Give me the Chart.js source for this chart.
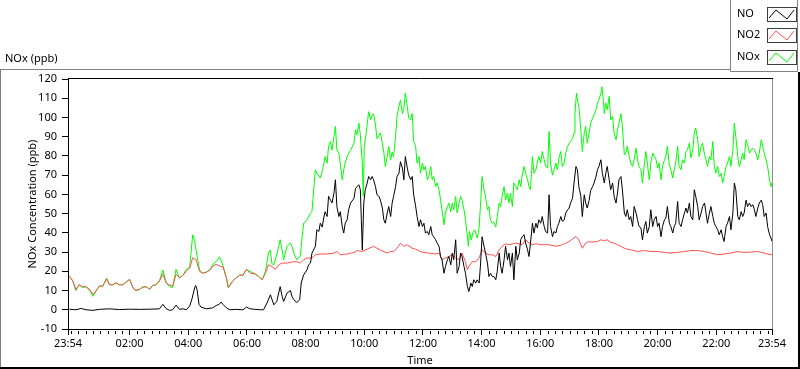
<!DOCTYPE html>
<html>
<head>
<meta charset="utf-8">
<script src="https://cdn.jsdelivr.net/npm/chart.js@4/dist/chart.umd.min.js"></script>
<style>
html,body{margin:0;padding:0;background:#fff;overflow:hidden;}
canvas{display:block;}
</style>
</head>
<body>
<canvas id="c" width="800" height="369"></canvas>
<script>
// ---- tick labels (minutes after 23:54) ----
const majorTickMinutes = [0,126,246,366,486,606,726,846,966,1086,1206,1326,1440];
const majorTickLabels = ["23:54","02:00","04:00","06:00","08:00","10:00","12:00","14:00","16:00","18:00","20:00","22:00","23:54"];
const seriesNames = ["NO","NO2","NOx"];
const seriesColors = ["#000000","#ff4f4f","#00ff00"];

// ---- NO (ppb) ----
const noTimes = [3,16,27,37,51,64,85,105,126,146,167,180,187,194,201,208,214,221,228,235,242,249,254,259,261,264,268,272,283,296,303,309,313,317,324,331,344,358,365,
372,380,393,400,407,414,421,427,434,438,441,448,455,458,462,468,474,477,482,489,492,496,499,506,509,513,516,520,523,526,530,533,537,540,544,547,550,554,557,561,564,567,571,574,578,585,588,591,595,598,600,602,605,608,612,615,619,622,625,629,632,636,639,643,646,649,653,656,660,663,666,670,673,677,680,684,687,690,694,697,701,704,707,711,
714,718,721,725,728,731,735,738,742,745,748,752,755,759,762,765,769,772,776,779,783,786,789,793,796,800,803,806,810,813,817,820,824,827,830,834,837,841,844,847,851,854,858,861,864,868,871,875,878,882,885,888,892,895,899,902,905,909,912,916,919,923,926,929,933,936,940,943,946,950,953,957,960,963,967,970,974,977,981,984,987,991,994,998,1001,1004,1008,1011,1015,1018,1022,1025,1028,1032,1035,1039,1042,1045,1049,1052,1056,1059,1062,1066,1069,
1073,1076,1080,1083,1086,1090,1093,1097,1100,1103,1107,1110,1114,1117,1121,1124,1127,1131,1134,1138,1141,1144,1148,1151,1155,1158,1162,1165,1168,1172,1175,1179,1182,1185,1189,1192,1196,1199,1203,1206,1209,1213,1216,1220,1223,1226,1230,1233,1237,1240,1243,1247,1250,1254,1257,1261,1264,1267,1271,1274,1278,1281,1284,1288,1291,1295,1298,1302,1305,1308,1312,1315,1319,1322,1325,1329,1332,1336,1339,1342,1346,1349,1353,1356,1360,1363,1366,1370,1373,1377,1380,1383,1387,1390,1394,1397,1401,1404,1407,1411,1414,1418,1421,1424,1428,1431,1435,1438,1440];
const noValues = [0.3,0,0.7,0,-0.3,0.2,0.5,0.1,0.3,0.2,0.3,0.4,0.5,2.8,0.5,-0.3,0,2.4,0.2,0.5,0,2,6,11.4,12.6,10.5,2.8,1.4,0.5,1,2.2,2.8,4,2.8,1,0,0.2,0,1.4,
0.5,0.3,0,0,3.5,7.8,2.6,4.3,12,7,4.3,8.7,10,7,5.2,3.8,5.2,13.9,18.2,20.8,23.4,24.3,29.5,33,41.6,40.7,45,43,47.7,51,48.5,59,57,55.5,60.7,67.6,53.7,48.5,51,43,39.9,45,46.8,52,55.5,58,63,64,65,62.4,46.8,31,55.5,62.4,65.9,69.3,67.6,69.3,67.6,64,59.8,59,57,52.9,46.8,45,50.3,53.7,48.5,55.5,59,64,69.3,71,77,73.7,67.6,79.7,73.7,70,67.6,69.3,59.8,54,
48.5,43.3,46.8,43.3,45,39.9,40.7,39,43.3,39,38,36.4,34.7,33,27.7,26,19,22.5,26,27.7,23.4,29.5,26,36.4,19,22.5,29.5,27.7,22.5,19,12.1,9.5,13.9,12.1,15.6,13.9,15.6,13.9,24.3,38,33,29.5,24.3,17.3,19,17.3,17.3,15.6,20,29.5,22.5,19,26,33,26,29.5,22.5,29.5,15.6,33,26,29.5,36.4,38,39,34.7,31.2,27.7,34.7,45,39.9,45,42.5,46.8,45,48.5,43.3,40.7,39.9,59.8,43.3,38,40.7,39.9,43.3,45,48.5,46,46.8,50.3,52,52.9,55.5,58,65.9,74.5,72.8,64,59,48.5,59.8,55.5,52.9,57,62,
64,65.9,69.3,72.8,74.5,78,71,65.9,71,74.5,67.6,62.4,65.9,59,55.5,60.7,67.6,69.3,62.4,50.3,48.5,52,46.8,48.5,43.3,53.7,50.3,46.8,43.3,42.5,36.4,43.3,45.9,39.9,43.3,52,43.3,46.8,48.5,43.3,45,38,43.3,46.8,47.7,53.7,45,43.3,39.9,43.3,45,56.3,45,43.3,46.8,50.3,52.9,50.3,55.5,48.5,46.8,62.4,59,53.7,46.8,50.3,53.7,55.5,50.3,45,50.3,53.7,48.5,45,43.3,41.6,39,41.6,38,35.5,43.3,45,48.5,41.6,50.3,65.9,62.4,48.5,46.8,51,48.5,50.3,57,53.7,55.5,53.7,54.6,52,48.5,52.9,55.5,57,54.6,48.5,50.3,43.3,39,37.3,35.5];

// ---- NO2 (ppb) ----
const no2Times = [3,10,16,23,30,37,44,51,57,64,71,79,85,92,98,105,112,119,126,133,139,146,153,160,167,173,180,187,194,201,208,214,221,228,235,242,249,255,262,269,276,283,290,296,303,310,317,324,328,337,344,351,358,365,373,383,390,397,404,410,417,424,431,438,448,455,462,468,475,482,489,499,506,516,530,544,550,557,571,585,591,602,612,625,632,639,653,660,666,673,680,687,694,704,711,725,738,752,759,765,772,779,786,793,800,806,813,817,820,827,834,841,847,854,861,868,875,882,888,895,902,909,916,929,936,943,950,957,970,984,998,1011,1025,1039,1045,1052,1059,1066,1069,1083,1090,1097,1103,1110,1117,1124,1131,1138,1144,1151,1165,1179,1192,1206,1220,1233,1247,1261,1274,1288,1302,1315,1329,1342,1356,1370,1383,1397,1411,1424,1431,1440];
const no2Values = [17.5,14.9,10.6,13,12,12,10.6,8,9.7,12.3,12.3,16,13,13,14,13,13,14.4,15.8,11.4,10.2,10.6,11.8,12,10.6,12.6,13,15,18.4,14,12.8,12.3,18.4,16.6,17.9,20,21.8,27,26,20,19,19.6,20.6,22.7,23.6,22.7,22.4,16.6,11.5,15,16.6,18,18,21,19,18.7,17.3,15.6,19,23.4,22.5,21,23.4,24.3,24.3,24.6,25,25,24.3,26,26.9,26.9,28.6,29,29,29.5,30.3,28.6,29,29.8,30.8,30.3,31.5,33,32,31,29.5,30.3,30.3,32,34.6,33,33.8,32,31.5,29.8,29.5,29,29.5,26,27,27.7,28.6,27,26,29.5,25,20.8,22.5,25,25,27,31.2,29.5,28.6,28.6,27.7,31.2,33,34.3,33.8,34.3,34.7,33.8,36.4,34.7,33.8,34.3,33.8,33.8,33,33.8,35.5,38.1,36.4,32,34.7,35.5,35.2,35.5,36.4,35.9,36.4,35,34.7,33.8,33,32,31.5,31.2,30.3,30.8,30.3,30.3,29.8,29.5,29.8,30.3,30.8,30.8,30.3,29.5,28.6,29,29.5,30.3,29.8,30,30.3,29.5,29,28.6];

// ---- NOx (ppb) ----
const noxTimes = [3,10,16,23,30,37,44,51,57,64,71,79,85,92,98,105,112,119,126,133,139,146,153,160,167,173,180,187,194,201,208,214,221,228,235,242,249,255,259,262,269,276,283,290,296,303,310,317,324,328,337,344,351,358,365,
372,380,390,397,404,410,414,417,421,427,434,438,441,448,455,458,462,468,475,479,482,489,496,499,503,506,509,516,520,526,530,533,537,540,544,547,550,554,557,561,564,567,571,578,585,588,591,595,598,602,604,606,610,615,619,622,625,629,632,639,643,646,649,653,656,660,663,666,670,673,677,680,684,687,690,694,697,701,704,707,711,
714,718,721,725,728,731,735,738,742,745,748,752,755,759,762,765,769,772,776,779,783,786,789,793,796,800,803,806,810,813,817,819,821,825,828,832,837,841,844,847,851,854,858,861,864,868,871,875,878,882,885,888,892,895,899,902,905,909,912,916,919,923,926,929,933,936,940,943,946,950,953,957,960,963,967,970,974,977,981,984,987,991,994,998,1001,1004,1008,1011,1015,1018,1022,1025,1028,1032,1035,1037,1040,1042,1045,1049,1052,1056,1059,1062,1066,1069,
1073,1076,1080,1083,1086,1090,1092,1095,1097,1100,1103,1107,1110,1114,1117,1121,1124,1127,1131,1134,1138,1141,1144,1148,1151,1155,1158,1162,1165,1168,1172,1175,1179,1182,1185,1189,1192,1196,1199,1203,1206,1209,1213,1216,1220,1223,1226,1230,1233,1237,1240,1243,1247,1250,1254,1257,1261,1264,1267,1271,1274,1278,1281,1284,1288,1291,1295,1298,1302,1305,1308,1312,1315,1319,1322,1325,1329,1332,1336,1339,1342,1346,1349,1353,1356,1360,1363,1366,1370,1373,1377,1380,1383,1387,1390,1394,1397,1401,1404,1407,1411,1414,1418,1421,1424,1428,1431,1435,1438,1440];
const noxValues = [17.5,14.9,10,13,11.5,12,10.2,7,9.7,12.3,12.3,16.4,13,13,14,13,13,14.4,15.8,11.4,9.8,10.6,11.8,12,10.6,12.6,13,15,20.6,14,12,11.5,21,16.6,17.9,21,22,39,36,31,20.8,19,19.6,20.6,23.6,25,27.5,23,16.6,11.5,15,16.6,18,18,21,
20,19,17.3,15.6,20,29.5,31,24,23.4,28.6,36.4,31,26,33,34.7,33,29.5,26,27.7,38,45,46.8,50.3,51,64,72.8,71,68.5,72,79.7,76.3,85,87.5,83,90,95.3,83,81.5,76,67.6,72.8,76.3,79.7,83,86.6,93.6,91,97,91,76,59,85,92,103,98.8,101,102,96,89,92,86.6,82,74.5,79.7,85,78,82,79.7,90,100.5,105.7,109,102,104.8,112.6,105.7,99.6,98.8,102,87.5,85,
76.3,79.7,71,76.3,72.8,74.5,67.6,69.3,74.5,67.6,69.3,64,66,62.4,57,52,44.2,50.3,53.7,55.5,51,55.5,52,59,50.3,55.5,59,57,52,46.8,38,33,40.7,36.4,40,41.6,37.3,43,55.5,69.3,62.4,59,52,53.7,46.8,45,45.5,43,48.5,55.5,53.7,59,64,57,60.7,55.5,60.7,53.7,66,64,62.4,67.6,64,70,74.5,71,67.6,64,62.4,79.7,71,72.8,76.3,79.7,76.3,82.3,78,74.5,73.7,92.7,76.3,70,72.8,76.3,72.8,79,82.3,74.5,76.3,81.5,85,86.6,87.5,89,92,102,112.6,109,105.7,93.6,82.3,92,95.3,86.6,92,97,
99.6,101.4,104,107.5,109,112.6,116,109,102,107.5,104,111,98.8,100.5,91.9,88.4,93.6,97,102,95.3,80.6,81.5,85,79.7,76.3,74.5,78,84,78,74.5,72.8,65.9,76.3,82.3,76.3,67.6,76.3,81.5,79.7,78,73.7,76.3,67.6,74.5,78,79.7,85,75.4,72.8,68.5,72.8,76.3,85,74.5,72.8,78,76.3,82.3,83.2,86.6,79,83.2,91.9,94.5,88.4,79.7,85,86.6,80.6,78,74.5,79.7,78,87.5,74.5,71,74.5,69.3,71,65.9,69.3,74.5,76.3,79.7,74.5,83.2,97,90,79.7,74.5,78,81.5,78,88.4,85.8,81.5,83.2,84,83.2,81.5,78,81.5,88.4,85,81.5,78,74.5,67.6,64,66];

const FONT = "'Noto Sans', 'DejaVu Sans', sans-serif";
const font11 = {family: FONT, size: 11};

const framePlugin = {
  id: 'frame',
  beforeDraw(chart) {
    const ctx = chart.ctx;
    ctx.save();
    ctx.fillStyle = '#ffffff';
    ctx.fillRect(0, 0, chart.width, chart.height);
    ctx.restore();
  },
  afterDraw(chart) {
    const ctx = chart.ctx;
    const a = chart.chartArea;
    const xs = chart.scales.x;
    ctx.save();
    ctx.lineWidth = 1;
    // plot frame: black top, gray right
    ctx.strokeStyle = '#000';
    ctx.beginPath();
    ctx.moveTo(Math.round(a.left), Math.round(a.top) - 0.5);
    ctx.lineTo(Math.round(a.right) + 1, Math.round(a.top) - 0.5);
    ctx.stroke();
    ctx.strokeStyle = '#8c8c8c';
    ctx.beginPath();
    ctx.moveTo(Math.round(a.right) + 0.5, Math.round(a.top));
    ctx.lineTo(Math.round(a.right) + 0.5, Math.round(a.bottom));
    ctx.stroke();
    // minor ticks every 15 min of clock time
    ctx.strokeStyle = '#000';
    ctx.beginPath();
    for (let m = 6; m < 1440; m += 15) {
      if (majorTickMinutes.indexOf(m) >= 0) continue;
      const px = Math.round(xs.getPixelForValue(m)) + 0.5;
      ctx.moveTo(px, Math.round(a.bottom) + 2);
      ctx.lineTo(px, Math.round(a.bottom) + 5);
    }
    ctx.stroke();
    // panel frame
    ctx.strokeStyle = '#808080';
    ctx.beginPath();
    ctx.moveTo(0, 69.5); ctx.lineTo(731, 69.5);
    ctx.moveTo(0.5, 69); ctx.lineTo(0.5, 369);
    ctx.stroke();
    ctx.fillStyle = '#000';
    ctx.fillRect(0, 367, 800, 2);
    ctx.fillRect(798, 72, 2, 297);
    // legend box
    ctx.strokeStyle = '#808080';
    ctx.beginPath();
    ctx.moveTo(730.5, 0); ctx.lineTo(730.5, 71.5);
    ctx.lineTo(797.5, 71.5); ctx.lineTo(797.5, 0);
    ctx.stroke();
    const rows = [14, 35, 57];
    ctx.font = "11px " + FONT;
    ctx.textBaseline = 'middle';
    ctx.textAlign = 'left';
    for (let i = 0; i < 3; i++) {
      const cy = rows[i];
      ctx.fillStyle = '#000';
      ctx.fillText(seriesNames[i], 737, cy);
      const bx = 767, by = cy - 7, bw = 29, bh = 14;
      ctx.strokeStyle = '#3c3c3c';
      ctx.strokeRect(bx + 0.5, by + 0.5, bw, bh);
      ctx.strokeStyle = seriesColors[i];
      ctx.beginPath();
      ctx.moveTo(bx + 2, by + bh - 3);
      ctx.lineTo(bx + 9, by + 3);
      ctx.lineTo(bx + 20, by + bh - 2);
      ctx.lineTo(bx + 27, by + 3);
      ctx.stroke();
    }
    // unit label
    ctx.fillStyle = '#000';
    ctx.fillText('NOx (ppb)', 5, 59);
    ctx.restore();
  }
};

function pts(t, v) { return t.map((x, i) => ({x: x, y: v[i]})); }

new Chart(document.getElementById('c'), {
  type: 'line',
  data: {
    datasets: [
      {label: seriesNames[0], data: pts(noTimes, noValues), borderColor: seriesColors[0], order: 0},
      {label: seriesNames[1], data: pts(no2Times, no2Values), borderColor: seriesColors[1], order: 1},
      {label: seriesNames[2], data: pts(noxTimes, noxValues), borderColor: seriesColors[2], order: 2}
    ]
  },
  options: {
    responsive: false,
    animation: false,
    devicePixelRatio: 1,
    layout: {padding: {top: 79, right: 28, left: 0, bottom: 0}},
    elements: {point: {radius: 0}, line: {borderWidth: 1, tension: 0, fill: false}},
    plugins: {legend: {display: false}, tooltip: {enabled: false}},
    scales: {
      x: {
        type: 'linear', min: 0, max: 1440,
        afterBuildTicks: s => { s.ticks = majorTickMinutes.map(v => ({value: v})); },
        afterFit: s => { s.height = 40; },
        ticks: {
          autoSkip: false, maxRotation: 0, minRotation: 0, padding: 2,
          color: '#000', font: font11,
          callback: v => majorTickLabels[majorTickMinutes.indexOf(v)]
        },
        grid: {drawOnChartArea: false, drawTicks: true, tickLength: 6, color: '#000'},
        border: {display: true, color: '#000'},
        title: {display: true, text: 'Time', color: '#000', font: font11, padding: {top: 0, bottom: 2}}
      },
      y: {
        min: -10, max: 120,
        afterFit: s => { s.width = 68; },
        ticks: {stepSize: 10, color: '#000', font: font11, padding: 5},
        grid: {drawOnChartArea: false, drawTicks: true, tickLength: 6, color: '#000'},
        border: {display: true, color: '#000'},
        title: {display: true, text: 'NOx Concentration (ppb)', color: '#000', font: font11, padding: {top: 26, bottom: 0}}
      }
    }
  },
  plugins: [framePlugin]
});
</script>
</body>
</html>
